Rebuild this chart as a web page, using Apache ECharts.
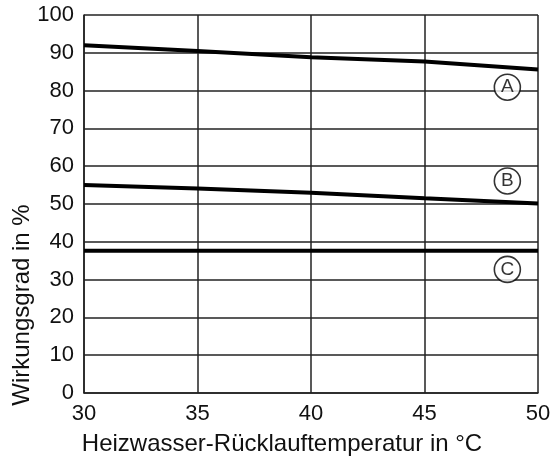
<!DOCTYPE html>
<html>
<head>
<meta charset="utf-8">
<script src="https://cdn.jsdelivr.net/npm/echarts@6/dist/echarts.min.js"></script>
<style>
  html, body { margin: 0; padding: 0; background: #fff; }
  #chart { width: 553px; height: 456px; }
</style>
</head>
<body>
<div id="chart"></div>
<script>
// temperatures (x) and efficiency curves
var temps = [30, 35, 40, 45, 50]
var curveA = [92, 90.5, 88.8, 87.7, 85.6]
var curveB = [55, 54.1, 53, 51.5, 50.1]
var curveC = [37.6, 37.6, 37.6, 37.6, 37.6]

// circled curve markers: letter, x, y
var markerNames = ['A', 'B', 'C']
var markerX = [48.65, 48.65, 48.65]
var markerY = [80.9, 56.1, 32.7]

var fontName = '"Liberation Sans", Arial, sans-serif'

function pairs(xs, ys) {
    return xs.map(function (x, i) { return [x, ys[i]] })
}

function curve(name, ys) {
    return {
        name: name,
        type: 'line',
        data: pairs(temps, ys),
        symbol: 'none',
        lineStyle: { color: '#000', width: 4 },
        z: 3
    }
}

var chart = echarts.init(document.getElementById('chart'))

var option = {
    animation: false,
    grid: { left: 84, right: 15, top: 15, bottom: 63, outerBoundsMode: 'none' },
    xAxis: {
        type: 'value',
        min: 30,
        max: 50,
        interval: 5,
        name: 'Heizwasser-Rücklauftemperatur in °C',
        nameLocation: 'middle',
        nameGap: 39,
        nameTextStyle: {
            color: '#111', fontSize: 24, fontFamily: fontName,
            padding: [0, 58, 0, 0]
        },
        axisLine: { lineStyle: { color: '#222', width: 1.5 } },
        axisTick: { show: false },
        axisLabel: { color: '#111', fontSize: 22, fontFamily: fontName, margin: 10 },
        splitLine: { show: true, lineStyle: { color: '#222', width: 1.5 } }
    },
    yAxis: {
        type: 'value',
        min: 0,
        max: 100,
        interval: 10,
        name: 'Wirkungsgrad in %',
        nameLocation: 'middle',
        nameGap: 50,
        nameMoveOverlap: false,
        nameTextStyle: {
            color: '#111', fontSize: 24, fontFamily: fontName,
            padding: [0, 202, 0, 0]
        },
        axisLine: { show: true, lineStyle: { color: '#222', width: 1.5 } },
        axisTick: { show: false },
        axisLabel: { color: '#111', fontSize: 22, fontFamily: fontName, margin: 10 },
        splitLine: { show: true, lineStyle: { color: '#222', width: 1.5 } }
    },
    series: [
        curve('A', curveA),
        curve('B', curveB),
        curve('C', curveC),
        {
            name: 'markers',
            type: 'scatter',
            data: markerNames.map(function (n, i) {
                return { value: [markerX[i], markerY[i]], name: n }
            }),
            symbol: 'circle',
            symbolSize: 26,
            itemStyle: { color: '#fff', borderColor: '#000', borderWidth: 1.6 },
            label: {
                show: true,
                position: 'inside',
                formatter: '{b}',
                color: '#000',
                fontSize: 19,
                fontFamily: fontName
            },
            z: 4
        }
    ]
}

chart.setOption(option)
</script>
</body>
</html>
